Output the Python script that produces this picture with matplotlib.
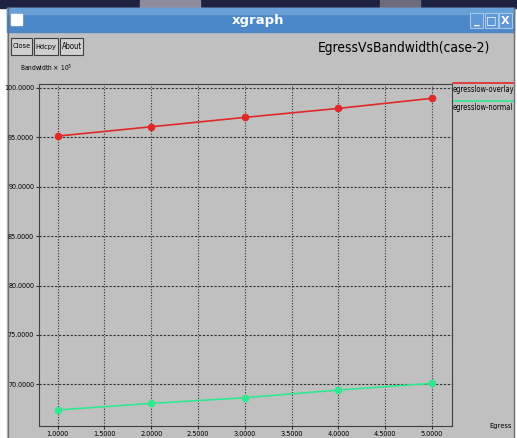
import matplotlib
matplotlib.use("Agg")
import matplotlib.pyplot as plt
from matplotlib.patches import Rectangle
from matplotlib import font_manager as fm

# ---- data ----
bandwidth = [1.0, 2.0, 3.0, 4.0, 5.0]
egress_overlay = [95.13, 96.07, 97.02, 97.93, 98.95]
egress_normal = [67.40, 68.07, 68.64, 69.42, 70.10]
series_names = ["egresslow-overlay", "egresslow-normal"]
x_ticks = [1.0, 1.5, 2.0, 2.5, 3.0, 3.5, 4.0, 4.5, 5.0]
y_ticks = [70, 75, 80, 85, 90, 95, 100]
title = "EgressVsBandwidth(case-2)"
buttons = ["Close", "Hdcpy", "About"]


def find_narrow_sans():
    cands = []
    for f in fm.fontManager.ttflist:
        name, fn = f.name, f.fname
        if "Serif" in name or "Mono" in name or "Serif" in fn or "Mono" in fn:
            continue
        st = f.stretch
        is_narrow = ("Narrow" in name or "Condensed" in name or
                     "Condensed" in fn or "Narrow" in fn or
                     st in ("condensed", "semi-condensed", "extra-condensed",
                            "ultra-condensed") or
                     (isinstance(st, int) and st < 500))
        if not is_narrow or f.style != "normal":
            continue
        if f.weight not in (400, "normal", "regular", "book"):
            continue
        score = 3 if "Liberation" in name else 2 if "DejaVu" in name else 1
        cands.append((score, fn))
    if cands:
        cands.sort(reverse=True)
        return cands[0][1]
    return None


narrow_file = find_narrow_sans()


def NP(size):
    if narrow_file:
        return fm.FontProperties(fname=narrow_file, size=size)
    return fm.FontProperties(family="Liberation Sans", size=size)


W, H = 517, 438
fig = plt.figure(figsize=(W / 100, H / 100), dpi=100)
fig.patch.set_facecolor("white")
GRAY = "#c0c0c0"
renderer = fig.canvas.get_renderer()


def fit(txt, target_w, max_size, grow=1.12):
    """Choose a size so that the text is about target_w pixels wide."""
    txt.set_fontproperties(NP(10))
    w = txt.get_window_extent(renderer).width
    size = min(max_size, 10 * target_w / w * grow)
    txt.set_fontproperties(NP(size))
    return size


bg = fig.add_axes([0, 0, 1, 1])
bg.set_xlim(0, W)
bg.set_ylim(H, 0)
bg.axis("off")

# desktop strip at the top
bg.add_patch(Rectangle((0, 0), W, 8, color="#1e2140"))
bg.add_patch(Rectangle((140, 0), 60, 8, color="#8c8c9c"))
bg.add_patch(Rectangle((380, 0), 40, 8, color="#6c6c7c"))
# window body
bg.add_patch(Rectangle((7, 8), 507, H - 8, color=GRAY))
bg.plot([7.5, 7.5], [8, H], color="#707070", lw=1)
bg.plot([513.5, 513.5], [8, H], color="#707070", lw=1)
# title bar
bg.add_patch(Rectangle((7, 8), 507, 24, color="#4b88c9"))
bg.add_patch(Rectangle((7, 8), 507, 6, color="#6aa0d8"))
bg.add_patch(Rectangle((11, 14), 11, 11, color="white"))
bg.text(258, 20.5, "xgraph", color="white", fontsize=9.5, fontweight="bold",
        ha="center", va="center", family="DejaVu Sans")
for i, sym in enumerate(["_", "\u25a1", "X"]):
    x0 = 470 + i * 14.5
    bg.add_patch(Rectangle((x0, 13), 13, 15, facecolor="#5d97d6",
                           edgecolor="#a9c9ea", lw=0.8))
    bg.text(x0 + 6.5, 20.5, sym, color="white", fontsize=8, fontweight="bold",
            ha="center", va="center", family="DejaVu Sans")

# buttons
bx = [11, 34, 60]
bw = [21, 24, 23]
for x0, w, lab in zip(bx, bw, buttons):
    bg.add_patch(Rectangle((x0, 38), w, 17, facecolor="#d0d0d0",
                           edgecolor="#404040", lw=0.8))
    t = bg.text(x0 + w / 2, 46.5, lab, ha="center", va="center")
    fit(t, w - 3, 7, grow=1.0)

t = bg.text(490, 48, title, ha="right", va="center")
fit(t, 150, 14, grow=1.15)
t = bg.text(20, 68, r"Bandwidth $\times$ 10$^3$", ha="left", va="center")
fit(t, 46, 7)
t = bg.text(512, 426, "Egress", ha="right", va="center")
fit(t, 20, 7)

# legend
bg.plot([453, 513], [83, 83], color="#e02828", lw=1.2)
t1 = bg.text(453, 89, series_names[0], ha="left", va="center")
s_leg = fit(t1, 59, 7, grow=1.05)
bg.plot([453, 513], [101, 101], color="#30e890", lw=1.2)
t2 = bg.text(453, 107, series_names[1], ha="left", va="center")
t2.set_fontproperties(NP(s_leg))

# plot axes
L, T, R, B = 39, 84, 452, 426
ax = fig.add_axes([L / W, (H - B) / H, (R - L) / W, (B - T) / H])
ax.set_facecolor(GRAY)
ax.set_xlim(0.8, 5.215)
ax.set_ylim(65.78, 100.4)
for s in ax.spines.values():
    s.set_color("#404040")
    s.set_linestyle((0, (2, 1)))
    s.set_linewidth(0.8)
ax.set_xticks(x_ticks)
ax.set_yticks(y_ticks)
ax.set_xticklabels([f"{v:.4f}" for v in x_ticks])
ax.set_yticklabels([f"{v:.4f}" for v in y_ticks])

probe = bg.text(0, 0, "100.0000")
s_y = fit(probe, 28, 8, grow=1.1)
probe.remove()
probe = bg.text(0, 0, "1.0000")
s_x = fit(probe, 21, 8, grow=1.1)
probe.remove()
for lab in ax.get_xticklabels():
    lab.set_fontproperties(NP(s_x))
for lab in ax.get_yticklabels():
    lab.set_fontproperties(NP(s_y))
ax.tick_params(axis="both", length=2, width=0.8, color="#303030")
ax.tick_params(axis="y", pad=1.5)
ax.tick_params(axis="x", pad=1.5)
for v in y_ticks:
    ax.axhline(v, color="#303030", lw=0.8, ls=(0, (2, 1.5)), zorder=1)
for v in x_ticks:
    ax.axvline(v, color="#303030", lw=0.8, ls=(0, (1, 1.5)), zorder=1)

ax.plot(bandwidth, egress_overlay, color="#e02828", lw=1.2, marker="o",
        ms=4.5, zorder=3)
ax.plot(bandwidth, egress_normal, color="#30e890", lw=1.2, marker="o",
        ms=4.5, zorder=3)

fig.savefig("out.png", dpi=100, facecolor=fig.get_facecolor())
